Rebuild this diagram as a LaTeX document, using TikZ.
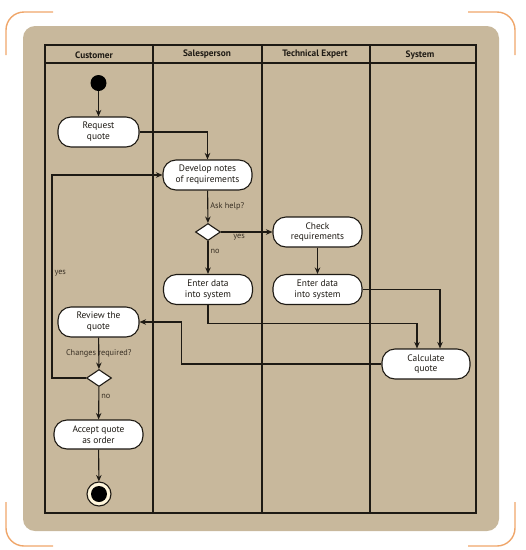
\documentclass[tikz,border=0pt]{standalone}
\usepackage{fontspec}
\setmainfont{PT Sans}
\usetikzlibrary{shapes.geometric,arrows.meta}
\definecolor{panel}{HTML}{C8B89C}
\definecolor{bracket}{HTML}{EFA66A}
\definecolor{cream}{HTML}{FFF6DC}
\definecolor{ink}{HTML}{1E1A14}
\definecolor{lbl}{HTML}{3A3125}
\begin{document}
\begin{tikzpicture}[x=1pt,y=-1pt,
  lane/.style={draw=ink, line width=1.1pt},
  act/.style={draw=ink, fill=white, line width=1.1pt, rounded corners=13pt,
    minimum height=30pt, align=center, inner sep=1pt, text=ink,
    font=\fontsize{9.4}{10.8}\selectfont},
  dec/.style={diamond, draw=ink, fill=white, line width=1.1pt, inner sep=0pt,
    minimum width=25pt, minimum height=17pt},
  hdr/.style={font=\bfseries\fontsize{9.3}{11}\selectfont, text=ink},
  lab/.style={font=\fontsize{8.3}{10}\selectfont, text=lbl, inner sep=2pt},
  arr/.style={draw=ink, line width=1.1pt, -{Stealth[length=6.5pt,width=5.5pt]}},
  brk/.style={draw=bracket, line width=1.4pt, rounded corners=18pt}]
\useasboundingbox (0,0) rectangle (526,550);
% corner brackets
\draw[brk] (6,55) -- (6,12) -- (53,12);
\draw[brk] (468,12) -- (515,12) -- (515,55);
\draw[brk] (6,502) -- (6,546) -- (53,546);
\draw[brk] (468,546) -- (515,546) -- (515,502);
% panel
\fill[panel, rounded corners=12pt] (23,26) rectangle (499,531);
% swimlanes
\draw[lane] (45,45) rectangle (476,513);
\draw[lane] (45,63) -- (476,63);
\draw[lane] (153,45) -- (153,513);
\draw[lane] (262,45) -- (262,513);
\draw[lane] (370,45) -- (370,513);
\node[hdr] (h1) at (94,55) {Customer};
\node[hdr] (h2) at (207,54) {Salesperson};
\node[hdr] (h3) at (315,54) {Technical Expert};
\node[hdr] (h4) at (420,55) {System};
% nodes
\node[circle, fill=black, minimum size=16pt, inner sep=0pt] (start) at (98.5,83) {};
\node[act, minimum width=81pt] (req) at (98.5,132) {Request\\quote};
\node[act, minimum width=89pt] (dev) at (207.5,175) {Develop notes\\of requirements};
\node[dec] (d1) at (208,232) {};
\node[act, minimum width=89pt] (chk) at (317.5,232) {Check\\requirements};
\node[act, minimum width=89pt] (ent1) at (208,289.5) {Enter data\\into system};
\node[act, minimum width=89pt] (ent2) at (317.5,289.5) {Enter data\\into system};
\node[act, minimum width=88pt] (calc) at (426,364) {Calculate\\quote};
\node[act, minimum width=81pt] (rev) at (98.5,322) {Review the\\quote};
\node[dec] (d2) at (99,378) {};
\node[act, minimum width=89pt, minimum height=29pt] (acc) at (98.5,434.5) {Accept quote\\as order};
\node[circle, draw=ink, line width=1.1pt, fill=cream, minimum size=24pt, inner sep=0pt,
  path picture={\fill[black] (path picture bounding box.center) circle (8pt);}] (end) at (99,494) {};
% connectors
\draw[arr] (start) -- (req);
\draw[arr] (req.east) -| (dev.north);
\draw[arr] (dev) -- node[lab, right] {Ask help?} (d1);
\draw[arr] (d1) -- node[lab, below, pos=0.35] {yes} (chk);
\draw[arr] (d1) -- node[lab, right, pos=0.3] {no} (ent1);
\draw[arr] (chk) -- (ent2);
\draw[arr] (ent2.east) -| ([xshift=14pt]calc.north);
\draw[arr] (ent1.south) -- ++(0,18) -| ([xshift=-9pt]calc.north);
\draw[arr] (calc.west) -- ++(-200,0) |- (rev.east);
\draw[arr] (rev) -- node[lab] {Changes required?} (d2);
\draw[arr] (d2.west) -- ++(-34,0) -- node[lab, right, pos=0.517] {yes} ++(0,-203) -- (dev.west);
\draw[arr] (d2) -- node[lab, right, pos=0.3] {no} (acc);
\draw[arr] (acc) -- (end);
\end{tikzpicture}
\end{document}
